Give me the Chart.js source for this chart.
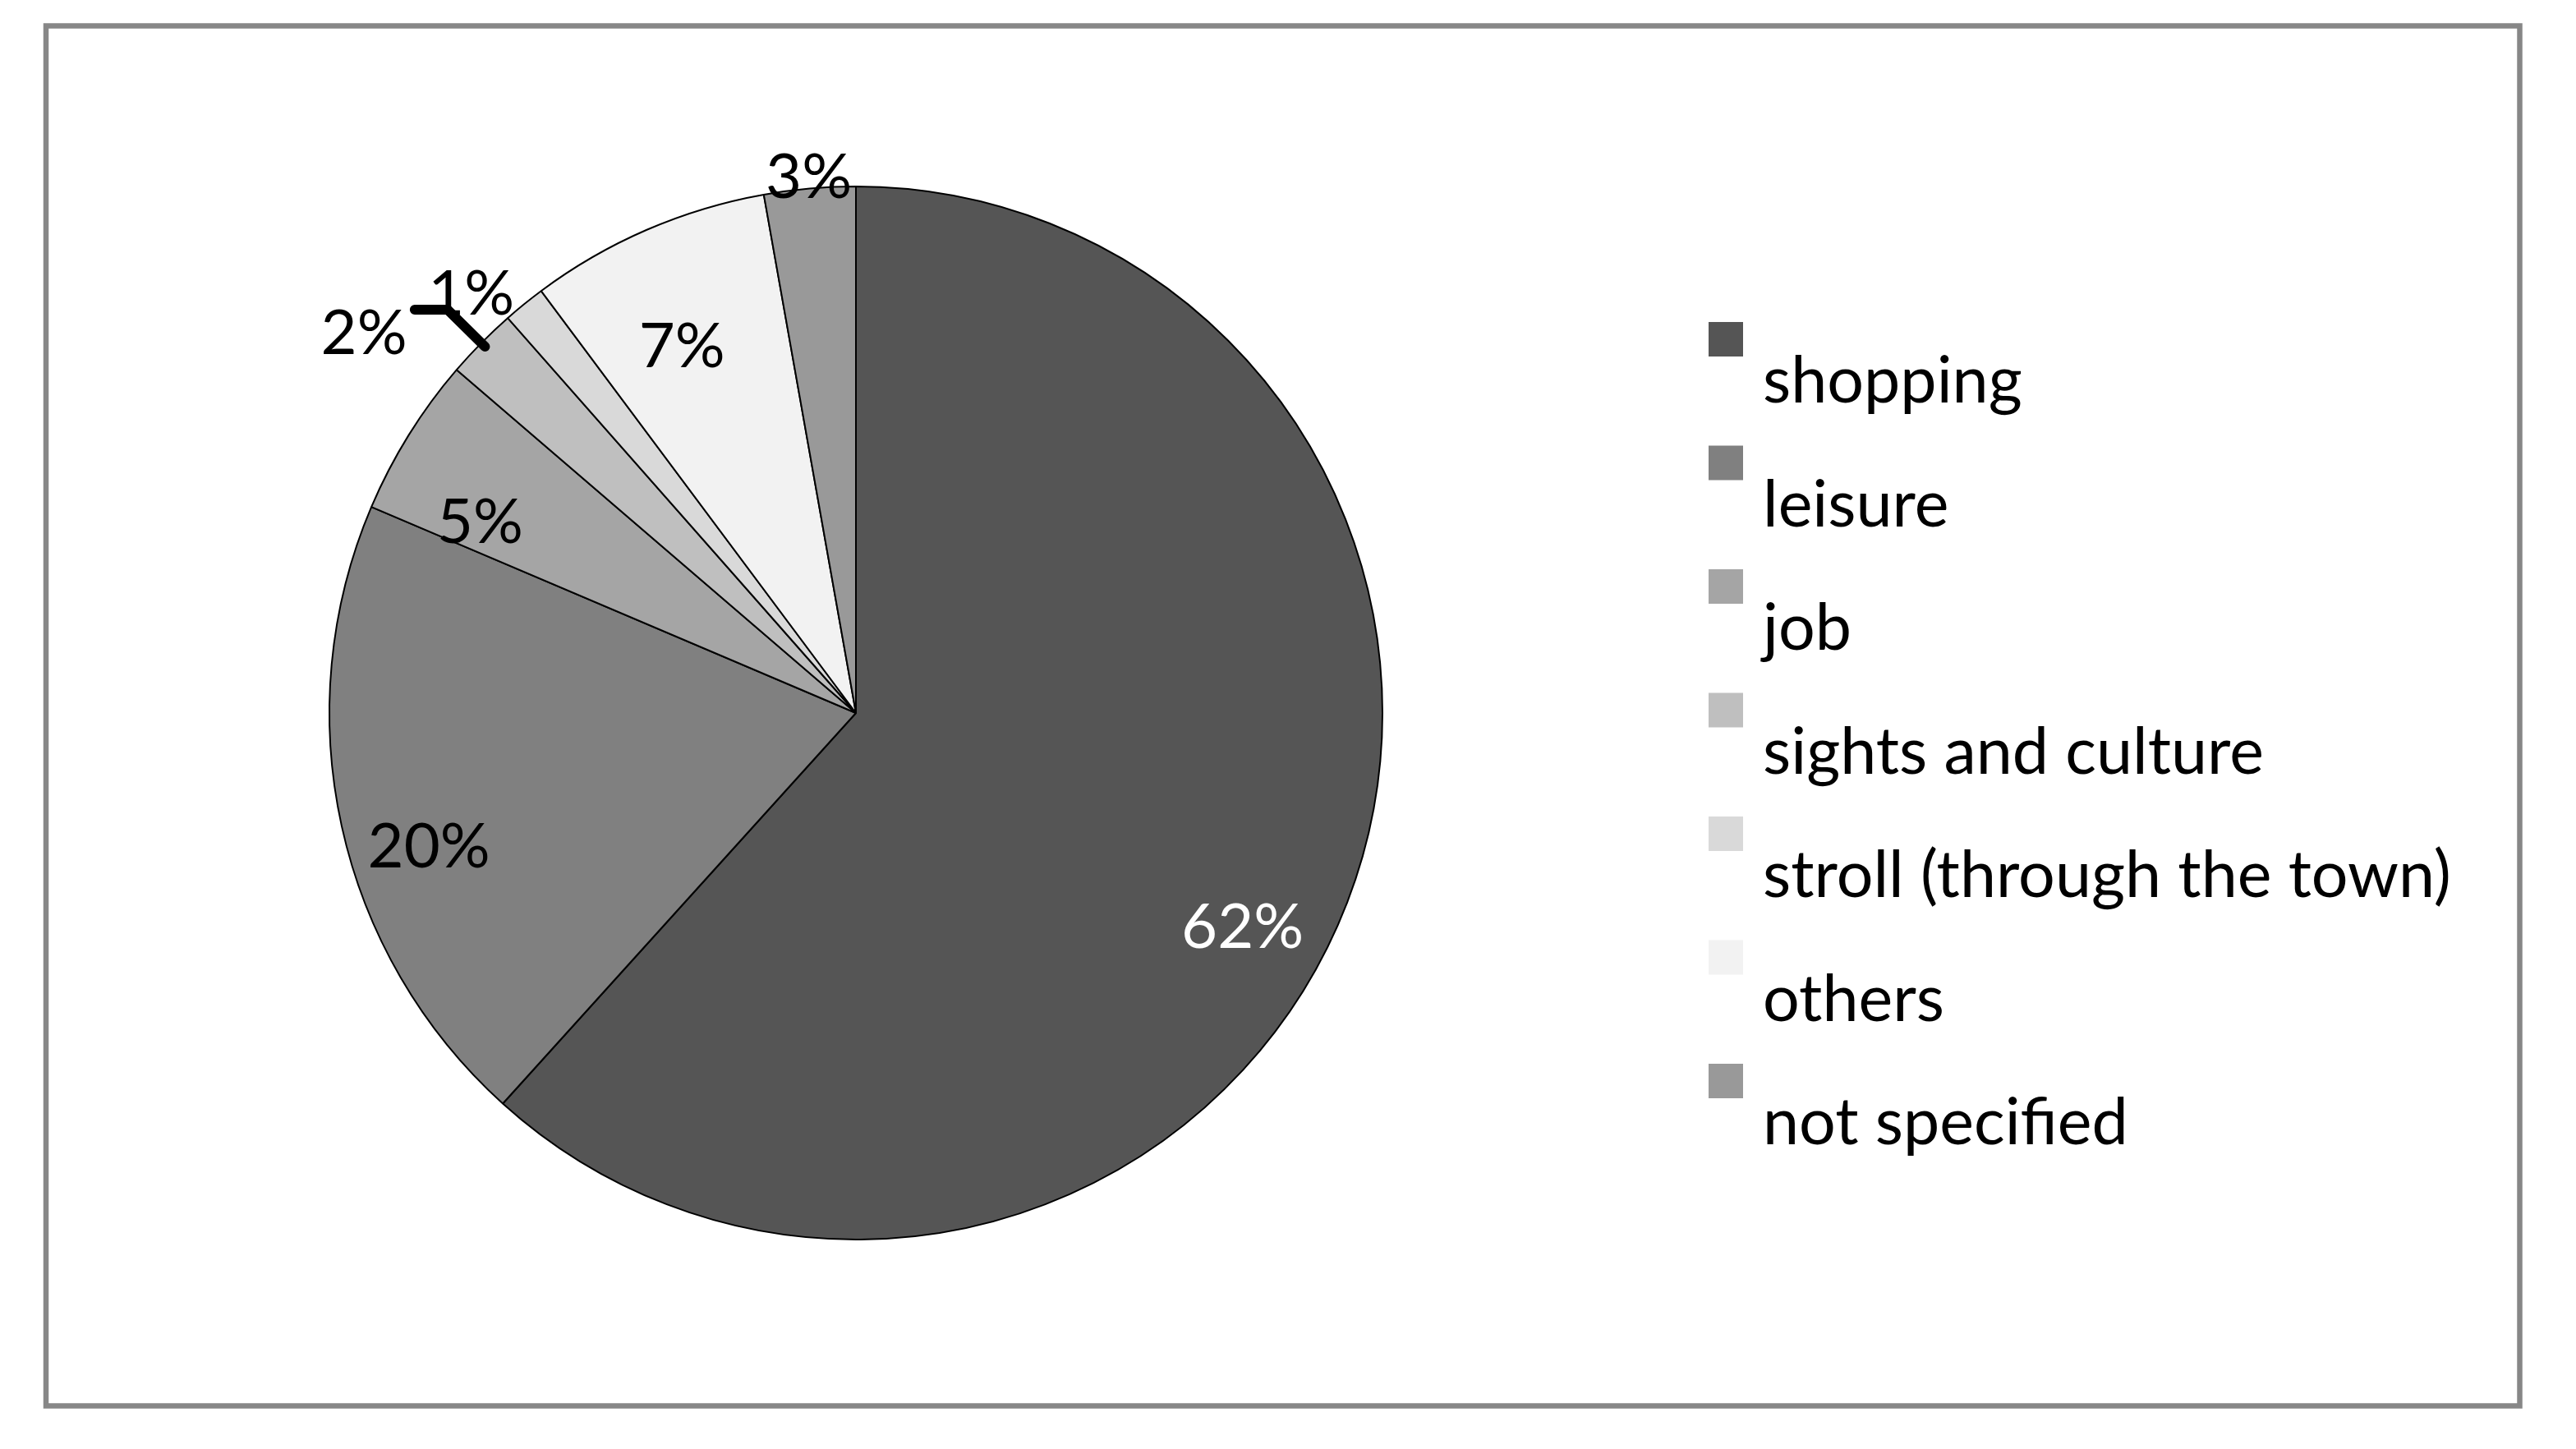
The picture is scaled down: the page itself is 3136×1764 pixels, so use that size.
<!DOCTYPE html>
<html>
<head>
<meta charset="utf-8">
<script src="https://cdn.jsdelivr.net/npm/chart.js@4/dist/chart.umd.min.js"></script>
<style>
  html, body { margin: 0; padding: 0; background: #fff; }
  canvas { display: block; }
</style>
</head>
<body>
<canvas id="purposeChart" width="3136" height="1764"></canvas>
<script>
// purposes of the visit (percent)
const categories = ['shopping', 'leisure', 'job', 'sights and culture', 'stroll (through the town)', 'others', 'not specified'];
const shares = [61.7, 19.7, 4.9, 2.2, 1.3, 7.4, 2.8];
const sliceColors = ['#555555', '#808080', '#a5a5a5', '#bfbfbf', '#d9d9d9', '#f2f2f2', '#999999'];

// label placement: radius factor and angle shift (degrees) per slice
const labelRadius = [0.84, 0.85, 0.80, 1.18, 1.08, 0.77, 1.02];
const labelShift = [8, -5, -5, -7, -3.5, -2, 0];
const labelColor = ['#ffffff', '#000000', '#000000', '#000000', '#000000', '#000000', '#000000'];

const FONT = 'Lato, "Open Sans", sans-serif';

const framePlugin = {
  id: 'frame',
  beforeDraw(chart) {
    const ctx = chart.ctx;
    ctx.save();
    ctx.fillStyle = '#ffffff';
    ctx.fillRect(0, 0, chart.width, chart.height);
    ctx.strokeStyle = '#878787';
    ctx.lineWidth = 6.5;
    ctx.strokeRect(56, 31.5, 3011.5, 1680);
    ctx.restore();
  }
};

const pieLabels = {
  id: 'pieLabels',
  afterDatasetsDraw(chart) {
    const ctx = chart.ctx;
    const arcs = chart.getDatasetMeta(0).data;
    ctx.save();
    ctx.font = '76px ' + FONT;
    ctx.textAlign = 'center';
    ctx.textBaseline = 'middle';
    arcs.forEach((arc, i) => {
      const p = arc.getProps(['x', 'y', 'startAngle', 'endAngle', 'outerRadius'], true);
      const mid = (p.startAngle + p.endAngle) / 2;
      const a = mid + labelShift[i] * Math.PI / 180;
      const r = p.outerRadius * labelRadius[i];
      ctx.fillStyle = labelColor[i];
      ctx.fillText(Math.round(shares[i]) + '%', p.x + r * Math.cos(a), p.y + r * Math.sin(a));
      if (i === 3) {
        // leader line for the small slice
        const r1 = p.outerRadius * 0.99;
        const r2 = p.outerRadius * 1.09;
        const ex = p.x + r2 * Math.cos(mid), ey = p.y + r2 * Math.sin(mid);
        ctx.beginPath();
        ctx.moveTo(p.x + r1 * Math.cos(mid), p.y + r1 * Math.sin(mid));
        ctx.lineTo(ex, ey);
        ctx.lineTo(ex - 40, ey);
        ctx.strokeStyle = '#000';
        ctx.lineWidth = 12;
        ctx.lineCap = 'round';
        ctx.lineJoin = 'round';
        ctx.stroke();
      }
    });
    ctx.restore();
  }
};

const sideLegend = {
  id: 'sideLegend',
  afterDraw(chart) {
    const ctx = chart.ctx;
    const ds = chart.data.datasets[0];
    ctx.save();
    ctx.font = '79px ' + FONT;
    ctx.textAlign = 'left';
    ctx.textBaseline = 'alphabetic';
    chart.data.labels.forEach((label, i) => {
      const y0 = 392 + i * 150.5;
      ctx.fillStyle = ds.backgroundColor[i];
      ctx.fillRect(2080, y0, 42, 42);
      ctx.fillStyle = '#000';
      ctx.fillText(label, 2146, y0 + 98);
    });
    ctx.restore();
  }
};

new Chart(document.getElementById('purposeChart'), {
  type: 'pie',
  data: {
    labels: categories,
    datasets: [{
      data: shares,
      backgroundColor: sliceColors,
      borderColor: '#000000',
      borderWidth: 2
    }]
  },
  options: {
    responsive: false,
    animation: false,
    devicePixelRatio: 1,
    layout: { padding: { left: 400, right: 1452, top: 226, bottom: 254 } },
    plugins: {
      legend: { display: false },
      tooltip: { enabled: false }
    }
  },
  plugins: [framePlugin, pieLabels, sideLegend]
});
</script>
</body>
</html>
